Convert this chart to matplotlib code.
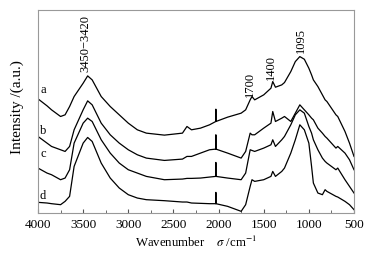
import matplotlib
matplotlib.use("Agg")
import matplotlib.pyplot as plt
from matplotlib.ticker import MultipleLocator

plt.rcParams['font.family'] = ['Liberation Serif', 'DejaVu Serif']
plt.rcParams['mathtext.fontset'] = 'stix'

# wavenumber grid (cm^-1), spectra (arbitrary units)
wn = [4000, 3900, 3850, 3750, 3700, 3650, 3600, 3500, 3450, 3400, 3300, 3200,
      3100, 3000, 2900, 2800, 2600, 2400, 2350, 2300, 2200, 2100, 2031, 2030,
      2029, 1900, 1750, 1700, 1650, 1630, 1600, 1500, 1420, 1400, 1370, 1300,
      1270, 1200, 1150, 1100, 1050, 1000, 970, 950, 900, 850, 820, 800, 700,
      680, 600, 550, 500]

spec_a = [343, 322, 310, 290, 295, 320, 350, 390, 412, 400, 350, 320,
          295, 270, 250, 240, 234, 240, 260, 250, 255, 265, 275, 312,
          275, 288, 300, 310, 340, 350, 340, 355, 375, 395, 378, 385,
          392, 425, 455, 470, 462, 435, 415, 400, 380, 355, 340, 335, 295,
          290, 245, 210, 170]
spec_b = [230, 210, 200, 190, 185, 200, 250, 310, 337, 325, 270, 235,
          210, 190, 175, 165, 158, 162, 170, 170, 180, 190, 192, 235,
          192, 180, 165, 185, 240, 235, 235, 255, 270, 305, 275, 285,
          290, 275, 300, 325, 310, 295, 285, 280, 255, 240, 230, 225, 195,
          200, 180, 160, 130]
spec_c = [135, 120, 115, 100, 105, 130, 210, 270, 285, 275, 220, 180,
          150, 130, 120, 110, 100, 102, 104, 104, 105, 108, 110, 152,
          110, 105, 100, 120, 190, 188, 185, 195, 205, 220, 200, 220,
          230, 265, 295, 310, 300, 260, 240, 220, 190, 165, 155, 150, 130,
          135, 100, 80, 60]
spec_d = [32, 30, 28, 25, 35, 50, 140, 210, 227, 215, 150, 105,
          75, 55, 45, 40, 37, 33, 33, 30, 29, 28, 28, 62,
          28, 20, 5, 25, 80, 100, 95, 100, 110, 125, 110, 125,
          135, 180, 220, 265, 250, 210, 140, 90, 60, 55, 70, 65, 50,
          48, 35, 25, 10]

curve_labels = ['a', 'b', 'c', 'd']
label_y = [370, 245, 177, 50]

peak_text = ['3450\u22123420', '1700', '1400', '1095']
peak_x = [3470, 1650, 1416, 1083]
peak_y = [425, 350, 400, 480]

fig = plt.figure(figsize=(3.71, 2.59), dpi=100)
ax = fig.add_axes([38 / 371, 1 - 213 / 259, 316 / 371, 203 / 259])

for s in [spec_a, spec_b, spec_c, spec_d]:
    ax.plot(wn, s, color='black', lw=0.9, solid_joinstyle='round')

for lab, y in zip(curve_labels, label_y):
    ax.text(3945, y, lab, fontsize=9, ha='center', va='center')

for t, x, y in zip(peak_text, peak_x, peak_y):
    ax.text(x, y, t, fontsize=9, rotation=90, ha='center', va='bottom')

ax.set_xlim(4000, 500)
ax.set_ylim(0, 610)
ax.xaxis.set_major_locator(MultipleLocator(500))
ax.xaxis.set_minor_locator(MultipleLocator(250))
ax.tick_params(axis='x', which='both', direction='in', colors='#555555',
               labelcolor='black', labelsize=9.5, pad=4)
ax.tick_params(axis='x', which='major', length=3)
ax.tick_params(axis='x', which='minor', length=2)
ax.set_yticks([])
for sp in ax.spines.values():
    sp.set_color('#999999')
    sp.set_linewidth(0.8)

ax.set_xlabel(r'Wavenumber    $\sigma$ /cm$^{-1}$', fontsize=9.2, labelpad=3)
ax.set_ylabel('Intensity /(a.u.)', fontsize=11)
ax.yaxis.set_label_coords(-0.045, 0.52)

fig.savefig('out.png', dpi=100)
